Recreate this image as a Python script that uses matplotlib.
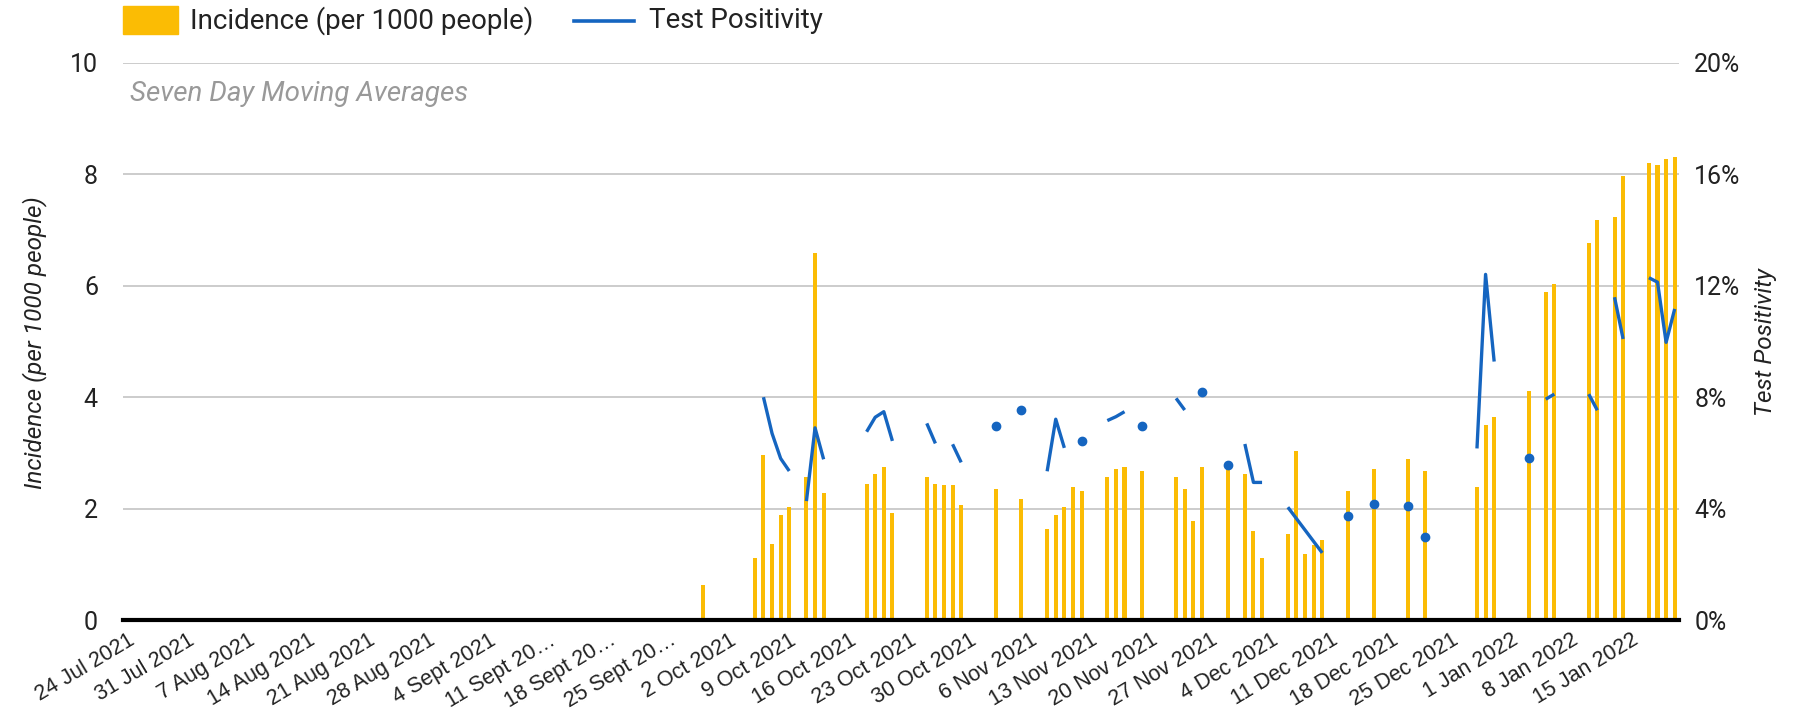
import numpy as np
import pandas as pd
import matplotlib
matplotlib.use("Agg")
import matplotlib.pyplot as plt
from matplotlib.patches import Rectangle
from matplotlib.lines import Line2D
from matplotlib import font_manager

plt.rcParams['font.family'] = ['Roboto', 'DejaVu Sans']

W, H = 1801, 713
start, end = "2021-07-24", "2022-01-20"

bar_dates = ["2021-09-29",
             "2021-10-05", "2021-10-06", "2021-10-07", "2021-10-08", "2021-10-09",
             "2021-10-11", "2021-10-12", "2021-10-13",
             "2021-10-18", "2021-10-19", "2021-10-20", "2021-10-21",
             "2021-10-25", "2021-10-26", "2021-10-27", "2021-10-28", "2021-10-29",
             "2021-11-02", "2021-11-05",
             "2021-11-08", "2021-11-09", "2021-11-10", "2021-11-11", "2021-11-12",
             "2021-11-15", "2021-11-16", "2021-11-17", "2021-11-19",
             "2021-11-23", "2021-11-24", "2021-11-25", "2021-11-26", "2021-11-29",
             "2021-12-01", "2021-12-02", "2021-12-03",
             "2021-12-06", "2021-12-07", "2021-12-08", "2021-12-09", "2021-12-10",
             "2021-12-13", "2021-12-16", "2021-12-20", "2021-12-22",
             "2021-12-28", "2021-12-29", "2021-12-30",
             "2022-01-03", "2022-01-05", "2022-01-06",
             "2022-01-10", "2022-01-11", "2022-01-13", "2022-01-14",
             "2022-01-17", "2022-01-18", "2022-01-19", "2022-01-20"]
incidence = [0.62,
             1.12, 2.96, 1.37, 1.88, 2.02,
             2.56, 6.58, 2.28,
             2.45, 2.63, 2.74, 1.92,
             2.56, 2.45, 2.42, 2.42, 2.06,
             2.35, 2.17,
             1.63, 1.88, 2.02, 2.38, 2.31,
             2.56, 2.71, 2.74, 2.67,
             2.56, 2.35, 1.77, 2.74, 2.74,
             2.63, 1.59, 1.12,
             1.55, 3.03, 1.19, 1.34, 1.44,
             2.31, 2.71, 2.89, 2.67,
             2.38, 3.50, 3.64,
             4.11, 5.89, 6.04,
             6.76, 7.19, 7.23, 7.98,
             8.20, 8.16, 8.27, 8.31]

pos_dates = ["2021-10-06", "2021-10-07", "2021-10-08", "2021-10-09",
             "2021-10-11", "2021-10-12", "2021-10-13",
             "2021-10-18", "2021-10-19", "2021-10-20", "2021-10-21",
             "2021-10-25", "2021-10-26", "2021-10-28", "2021-10-29",
             "2021-11-02", "2021-11-05",
             "2021-11-08", "2021-11-09", "2021-11-10", "2021-11-12",
             "2021-11-15", "2021-11-16", "2021-11-17", "2021-11-19",
             "2021-11-23", "2021-11-24", "2021-11-26", "2021-11-29",
             "2021-12-01", "2021-12-02", "2021-12-03",
             "2021-12-06", "2021-12-07", "2021-12-08", "2021-12-09", "2021-12-10",
             "2021-12-13", "2021-12-16", "2021-12-20", "2021-12-22",
             "2021-12-28", "2021-12-29", "2021-12-30",
             "2022-01-03", "2022-01-05", "2022-01-06",
             "2022-01-10", "2022-01-11", "2022-01-13", "2022-01-14",
             "2022-01-17", "2022-01-18", "2022-01-19", "2022-01-20"]
positivity = [8.0, 6.7, 5.8, 5.35,
              4.27, 6.9, 5.77,
              6.76, 7.28, 7.48, 6.43,
              7.06, 6.34, 6.31, 5.66,
              6.97, 7.55,
              5.34, 7.21, 6.18, 6.41,
              7.16, 7.30, 7.48, 6.98,
              7.96, 7.54, 8.17, 5.56,
              6.32, 4.94, 4.94,
              4.05, 3.64, 3.23, 2.82, 2.41,
              3.75, 4.15, 4.09, 2.97,
              6.16, 12.41, 9.28,
              5.80, 7.93, 8.11,
              8.11, 7.53, 11.59, 10.09,
              12.29, 12.13, 9.97, 11.17]

tick_labels = ["24 Jul 2021", "31 Jul 2021", "7 Aug 2021", "14 Aug 2021", "21 Aug 2021",
               "28 Aug 2021", "4 Sept 2021", "11 Sept 20…", "18 Sept 20…", "25 Sept 20…",
               "2 Oct 2021", "9 Oct 2021", "16 Oct 2021", "23 Oct 2021", "30 Oct 2021",
               "6 Nov 2021", "13 Nov 2021", "20 Nov 2021", "27 Nov 2021", "4 Dec 2021",
               "11 Dec 2021", "18 Dec 2021", "25 Dec 2021", "1 Jan 2022", "8 Jan 2022",
               "15 Jan 2022"]

days = pd.date_range(start, end)
inc = pd.Series(incidence, index=pd.to_datetime(bar_dates)).reindex(days)
pos = pd.Series(positivity, index=pd.to_datetime(pos_dates)).reindex(days)
x = np.arange(len(days))

yellow = '#fbbc04'
blue = '#1565c0'
ink = '#222222'

# narrow face for the date labels if it is there
names = {f.name for f in font_manager.fontManager.ttflist}
date_font = 'Liberation Sans Narrow' if 'Liberation Sans Narrow' in names else 'Liberation Sans'
date_size = 18 if date_font == 'Liberation Sans Narrow' else 15.5

fig = plt.figure(figsize=(W / 100, H / 100), dpi=100)
ax = fig.add_axes([123 / W, 1 - 620 / H, (1679 - 123) / W, (620 - 63) / H])
ax.bar(x, inc.values, width=0.47, color=yellow, zorder=2)
ax.set_xlim(-0.5, len(days) - 0.5)
ax.set_ylim(0, 10)
ax.set_yticks(np.arange(0, 11, 2))
ax.grid(axis='y', color='#cccccc', lw=1.4, zorder=0)
ax.set_axisbelow(True)
for s in ['top', 'right', 'left']:
    ax.spines[s].set_visible(False)
ax.spines['bottom'].set_color('black')
ax.spines['bottom'].set_linewidth(3)
ax.spines['bottom'].set_zorder(5)
ax.tick_params(axis='both', length=0)
ax.tick_params(axis='y', labelsize=18, pad=18, labelcolor=ink)
ax.set_xticks(x[::7])
ax.set_xticklabels(tick_labels, rotation=31, ha='right', va='top',
                   rotation_mode='anchor', fontsize=date_size, family=date_font,
                   color=ink)
ax.tick_params(axis='x', pad=7)

fig.text(35 / W, 1 - 343 / H, "Incidence (per 1000 people)", fontsize=17.5,
         style='italic', color=ink, rotation=90, ha='center', va='center')
fig.text(1765 / W, 1 - 342 / H, "Test Positivity", fontsize=17.5,
         style='italic', color=ink, rotation=90, ha='center', va='center')

ax.text(130 / W, 1 - 94 / H, "Seven Day Moving Averages", transform=fig.transFigure,
        fontsize=20, style='italic', color='#999999', va='center', ha='left')

ax2 = ax.twinx()
ax2.set_ylim(0, 20)
ax2.set_yticks(np.arange(0, 21, 4))
ax2.set_yticklabels([f"{v}%" for v in range(0, 21, 4)])
ax2.plot(x, pos.values, color=blue, lw=2.4, solid_capstyle='butt', zorder=3)
alone = (pos.notna() & pos.shift(1).isna() & pos.shift(-1).isna()).values
ax2.plot(x[alone], pos.values[alone], 'o', color=blue, ms=6, zorder=3)
for s in ['top', 'right', 'left', 'bottom']:
    ax2.spines[s].set_visible(False)
ax2.tick_params(axis='y', length=0, labelsize=18, pad=11, labelcolor=ink)

# legend
fig.patches.append(Rectangle((123 / W, 1 - 34 / H), 55 / W, 28 / H,
                             transform=fig.transFigure, color=yellow))
fig.text(190 / W, 1 - 21 / H, "Incidence (per 1000 people)", fontsize=20,
         va='center', ha='left', color=ink)
fig.lines.append(Line2D([574 / W, 634 / W], [1 - 21 / H, 1 - 21 / H],
                        transform=fig.transFigure, color=blue, lw=2.6))
fig.text(649 / W, 1 - 21 / H, "Test Positivity", fontsize=20,
         va='center', ha='left', color=ink)

fig.savefig("out.png", dpi=100)
